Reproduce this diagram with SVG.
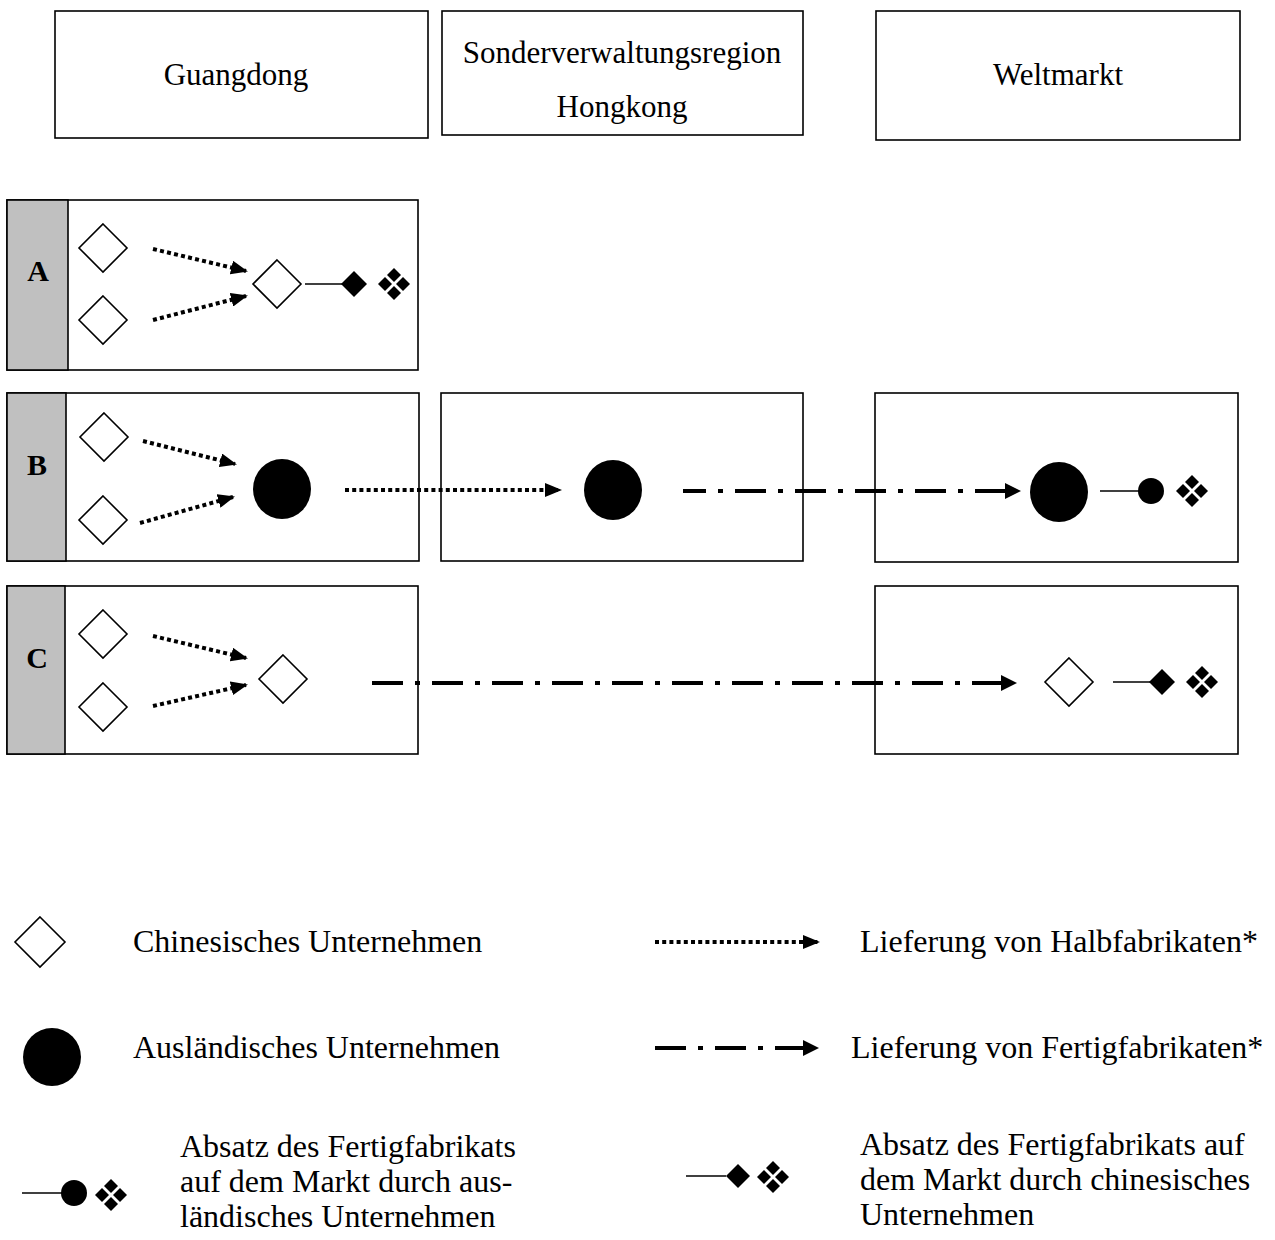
<svg xmlns="http://www.w3.org/2000/svg" width="1275" height="1240" viewBox="0 0 1275 1240">
<style>
  .box { fill: #ffffff; stroke: #000000; stroke-width: 1.6; }
  .band { fill: #c0c0c0; stroke: #000000; stroke-width: 1.6; }
  .cn { fill: #ffffff; stroke: #000000; stroke-width: 1.6; }
  .fill { fill: #000000; stroke: none; }
  .t { font-family: "Liberation Serif", "Times New Roman", serif; font-size: 32px; fill: #000000; }
  .h { font-family: "Liberation Serif", "Times New Roman", serif; font-size: 31px; fill: #000000; text-anchor: middle; }
  .lbl { font-family: "Liberation Serif", "Times New Roman", serif; font-size: 30px; font-weight: bold; fill: #000000; text-anchor: middle; }
  .dot { fill: none; stroke: #000000; stroke-width: 4; stroke-dasharray: 4 3.2; marker-end: url(#headS); }
  .dash { fill: none; stroke: #000000; stroke-width: 4; stroke-dasharray: 31 12 5 12; marker-end: url(#headL); }
  .sale { fill: none; stroke: #000000; stroke-width: 1.6; }
</style>
<defs>
  <marker id="headS" markerUnits="userSpaceOnUse" markerWidth="18" markerHeight="14" refX="15" refY="7" orient="auto">
    <path d="M0,0 L17,7 L0,14 z" fill="#000000"/>
  </marker>
  <marker id="headL" markerUnits="userSpaceOnUse" markerWidth="18" markerHeight="16" refX="1" refY="8" orient="auto">
    <path d="M0,0 L16,8 L0,16 z" fill="#000000"/>
  </marker>
  <g id="fleuron">
    <polygon points="0,-16 7,-9 0,-2 -7,-9"/>
    <polygon points="0,16 7,9 0,2 -7,9"/>
    <polygon points="-16,0 -9,-7 -2,0 -9,7"/>
    <polygon points="16,0 9,-7 2,0 9,7"/>
  </g>
  <polygon id="cnd" points="0,-24 24,0 0,24 -24,0"/>
  <polygon id="smd" points="0,-13 13,0 0,13 -13,0"/>
</defs>

<!-- Header boxes -->
<g id="hdr-guangdong">
  <rect class="box" x="55" y="11" width="373" height="127"/>
  <text class="h" x="236" y="85">Guangdong</text>
</g>
<g id="hdr-hongkong">
  <rect class="box" x="442" y="11" width="361" height="124"/>
  <text class="h" x="622" y="63">Sonderverwaltungsregion</text>
  <text class="h" x="622" y="117">Hongkong</text>
</g>
<g id="hdr-weltmarkt">
  <rect class="box" x="876" y="11" width="364" height="129"/>
  <text class="h" x="1058" y="85">Weltmarkt</text>
</g>

<!-- Row A -->
<g id="rowA">
  <rect class="box" x="7" y="200" width="411" height="170"/>
  <rect class="band" x="7" y="200" width="61" height="170"/>
  <text class="lbl" x="38" y="281">A</text>
  <use href="#cnd" class="cn" x="103" y="248"/>
  <use href="#cnd" class="cn" x="103" y="320"/>
  <use href="#cnd" class="cn" x="277" y="284"/>
  <line class="sale" x1="305" y1="284" x2="345" y2="284"/>
  <use href="#smd" class="fill" x="354" y="284"/>
  <use href="#fleuron" class="fill" x="394" y="284"/>
</g>

<!-- Row B -->
<g id="rowB-guangdong">
  <rect class="box" x="7" y="393" width="412" height="168"/>
  <rect class="band" x="7" y="393" width="59" height="168"/>
  <text class="lbl" x="37" y="475">B</text>
  <use href="#cnd" class="cn" x="104" y="437"/>
  <use href="#cnd" class="cn" x="103" y="520"/>
  <ellipse class="fill" cx="282" cy="489" rx="29" ry="30"/>
</g>
<g id="rowB-hongkong">
  <rect class="box" x="441" y="393" width="362" height="168"/>
  <ellipse class="fill" cx="613" cy="490" rx="29" ry="30"/>
</g>
<g id="rowB-weltmarkt">
  <rect class="box" x="875" y="393" width="363" height="169"/>
  <ellipse class="fill" cx="1059" cy="492" rx="29" ry="30"/>
  <line class="sale" x1="1100" y1="491" x2="1140" y2="491"/>
  <circle class="fill" cx="1151" cy="491" r="13"/>
  <use href="#fleuron" class="fill" x="1192" y="491"/>
</g>

<!-- Row C -->
<g id="rowC-guangdong">
  <rect class="box" x="7" y="586" width="411" height="168"/>
  <rect class="band" x="7" y="586" width="58" height="168"/>
  <text class="lbl" x="37" y="668">C</text>
  <use href="#cnd" class="cn" x="103" y="634"/>
  <use href="#cnd" class="cn" x="103" y="707"/>
  <use href="#cnd" class="cn" x="283" y="679"/>
</g>
<g id="rowC-weltmarkt">
  <rect class="box" x="875" y="586" width="363" height="168"/>
  <use href="#cnd" class="cn" x="1069" y="682"/>
  <line class="sale" x1="1113" y1="682" x2="1150" y2="682"/>
  <use href="#smd" class="fill" x="1162" y="682"/>
  <use href="#fleuron" class="fill" x="1202" y="682"/>
</g>

<!-- Connectors -->
<g id="connectors">
  <line class="dot" x1="153" y1="249" x2="246" y2="271"/>
  <line class="dot" x1="153" y1="320" x2="246" y2="296"/>
  <line class="dot" x1="143" y1="441" x2="235" y2="464"/>
  <line class="dot" x1="140" y1="523" x2="233" y2="497"/>
  <line class="dot" x1="345" y1="490" x2="560" y2="490"/>
  <line class="dash" x1="683" y1="491" x2="1006" y2="491" stroke-dashoffset="8"/>
  <line class="dot" x1="153" y1="636" x2="246" y2="658"/>
  <line class="dot" x1="153" y1="706" x2="246" y2="685"/>
  <line class="dash" x1="372" y1="683" x2="1002" y2="683"/>
</g>

<!-- Legend -->
<g id="legend-chinese">
  <polygon class="cn" points="40,917 65,942 40,967 15,942"/>
  <text class="t" x="133" y="952">Chinesisches Unternehmen</text>
</g>
<g id="legend-foreign">
  <circle class="fill" cx="52" cy="1057" r="29"/>
  <text class="t" x="133" y="1058">Ausländisches Unternehmen</text>
</g>
<g id="legend-semi">
  <line class="dot" x1="655" y1="942" x2="818" y2="942"/>
  <text class="t" x="860" y="952">Lieferung von Halbfabrikaten*</text>
</g>
<g id="legend-finished">
  <line class="dash" x1="655" y1="1048" x2="804" y2="1048"/>
  <text class="t" x="851" y="1058">Lieferung von Fertigfabrikaten*</text>
</g>
<g id="legend-sale-foreign">
  <line class="sale" x1="22" y1="1193" x2="62" y2="1193"/>
  <circle class="fill" cx="74" cy="1193" r="13"/>
  <use href="#fleuron" class="fill" x="111" y="1195"/>
  <text class="t" x="180" y="1157">Absatz des Fertigfabrikats</text>
  <text class="t" x="180" y="1192">auf dem Markt durch aus-</text>
  <text class="t" x="180" y="1227">ländisches Unternehmen</text>
</g>
<g id="legend-sale-chinese">
  <line class="sale" x1="686" y1="1176" x2="726" y2="1176"/>
  <polygon class="fill" points="738,1164 750,1176 738,1188 726,1176"/>
  <use href="#fleuron" class="fill" x="773" y="1177"/>
  <text class="t" x="860" y="1155">Absatz des Fertigfabrikats auf</text>
  <text class="t" x="860" y="1190">dem Markt durch chinesisches</text>
  <text class="t" x="860" y="1225">Unternehmen</text>
</g>
</svg>
